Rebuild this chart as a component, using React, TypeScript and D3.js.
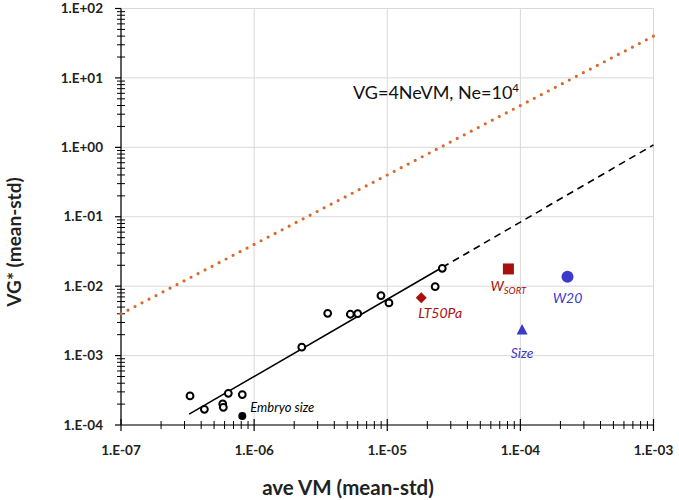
import React from "react";
import * as d3 from "d3";

// ---- data ----
const openVM = [3.3e-7, 4.23e-7, 5.81e-7, 5.87e-7, 6.4e-7, 8.15e-7, 2.28e-6, 3.57e-6, 5.28e-6, 6.0e-6, 8.97e-6, 1.03e-5, 2.29e-5, 2.59e-5];
const openVG = [2.62e-4, 1.68e-4, 2.01e-4, 1.8e-4, 2.86e-4, 2.74e-4, 1.32e-3, 4.06e-3, 3.94e-3, 4.02e-3, 7.3e-3, 5.73e-3, 9.84e-3, 1.81e-2];

const namedLabels = ["Embryo size", "LT50Pa", "W", "W20", "Size"];
const namedSub = ["", "", "SORT", "", ""];
const namedVM = [8.15e-7, 1.8e-5, 8.13e-5, 2.26e-4, 1.03e-4];
const namedVG = [1.35e-4, 6.82e-3, 1.77e-2, 1.37e-2, 2.34e-3];
const namedShape = ["circle", "diamond", "square", "circle", "triangle"];
const namedColor = ["#000000", "#A80F0F", "#A80F0F", "#3A3ACB", "#3A3ACB"];

// power-law fit VG = 10^fitLogA * VM^fitB
const fitLogA = 3.371;
const fitB = 1.112;
const fitStart = 3.25e-7;
const fitSolidEnd = 2.6e-5;
const fitEnd = 1e-3;

// neutral expectation VG = 4 Ne VM
const Ne = 1e4;

const xTicks = [1e-7, 1e-6, 1e-5, 1e-4, 1e-3];
const yTicks = [1e-4, 1e-3, 1e-2, 1e-1, 1e0, 1e1, 1e2];
const fmtExp = (v: number) => {
  const e = Math.round(Math.log10(v));
  return "1.E" + (e < 0 ? "-" : "+") + String(Math.abs(e)).padStart(2, "0");
};

export default function App() {
  const W = 679, H = 500;
  const x = d3.scaleLog().domain([1e-7, 1e-3]).range([121, 653.5]);
  const y = d3.scaleLog().domain([1e-4, 1e2]).range([425, 8.5]);
  const font = "Lato, 'Open Sans', sans-serif";

  const fit = (v: number) => Math.pow(10, fitLogA) * Math.pow(v, fitB);
  const fitLine = d3.line<number>().x((d) => x(d)).y((d) => y(fit(d)));
  const solidPts = [fitStart, fitSolidEnd];
  const dashPts = [fitSolidEnd, fitEnd];

  const xMinor: number[] = [];
  for (let e = -7; e < -3; e++) for (let k = 2; k <= 9; k++) xMinor.push(k * Math.pow(10, e));
  const yMinor: number[] = [];
  for (let e = -4; e < 2; e++) for (let k = 2; k <= 9; k++) yMinor.push(k * Math.pow(10, e));

  const orangeX1 = 1e-7, orangeX2 = 1e-3;

  const shape = (s: string, cx: number, cy: number, c: string, i: number) => {
    if (s === "circle") {
      const r = i === 0 ? 4 : 6;
      return <circle key={i} cx={cx} cy={cy} r={r} fill={c} />;
    }
    if (s === "square") return <rect key={i} x={cx - 5.5} y={cy - 5.5} width={11} height={11} fill={c} />;
    if (s === "diamond")
      return <path key={i} d={`M${cx},${cy - 5.5}L${cx + 5.5},${cy}L${cx},${cy + 5.5}L${cx - 5.5},${cy}Z`} fill={c} />;
    return <path key={i} d={`M${cx},${cy - 6}L${cx + 5.5},${cy + 4.5}L${cx - 5.5},${cy + 4.5}Z`} fill={c} />;
  };

  const labelPos = [
    { dx: 8, dy: -4, anchor: "start" },
    { dx: -3, dy: 20, anchor: "start" },
    { dx: -18, dy: 22, anchor: "start" },
    { dx: 0, dy: 26, anchor: "middle" },
    { dx: 0, dy: 28, anchor: "middle" },
  ];

  return (
    <svg width={W} height={H} style={{ position: "absolute", left: 0, top: 0, background: "#fff" }} fontFamily={font}>
      {/* grid */}
      {xTicks.map((t) => (
        <line key={"gx" + t} x1={x(t)} x2={x(t)} y1={y(1e2)} y2={y(1e-4)} stroke="#D9D9D9" strokeWidth={1} />
      ))}
      {yTicks.map((t) => (
        <line key={"gy" + t} x1={x(1e-7)} x2={x(1e-3)} y1={y(t)} y2={y(t)} stroke="#D9D9D9" strokeWidth={1} />
      ))}

      {/* axes */}
      <line x1={121} x2={121} y1={y(1e2)} y2={y(1e-4)} stroke="#000" strokeWidth={1.2} />
      <line x1={x(1e-7)} x2={x(1e-3)} y1={425} y2={425} stroke="#000" strokeWidth={1.2} />
      {yMinor.map((t) => (
        <line key={"ym" + t} x1={117} x2={125} y1={y(t)} y2={y(t)} stroke="#000" strokeWidth={1} />
      ))}
      {yTicks.map((t) => (
        <line key={"yt" + t} x1={115} x2={121} y1={y(t)} y2={y(t)} stroke="#000" strokeWidth={1.2} />
      ))}
      {xMinor.map((t) => (
        <line key={"xm" + t} x1={x(t)} x2={x(t)} y1={421} y2={429} stroke="#000" strokeWidth={1} />
      ))}
      {xTicks.map((t) => (
        <line key={"xt" + t} x1={x(t)} x2={x(t)} y1={419} y2={431} stroke="#000" strokeWidth={1.2} />
      ))}

      {/* tick labels */}
      {yTicks.map((t) => (
        <text key={"yl" + t} x={103} y={y(t)} dy="0.35em" textAnchor="end" fontSize={13.5} fontWeight="bold" fill="#222">
          {fmtExp(t)}
        </text>
      ))}
      {xTicks.map((t) => (
        <text key={"xl" + t} x={x(t)} y={450} dy="0.35em" textAnchor="middle" fontSize={13.5} fontWeight="bold" fill="#222">
          {fmtExp(t)}
        </text>
      ))}

      {/* axis titles */}
      <text x={348} y={488} dy="0.35em" textAnchor="middle" fontSize={20.5} fontWeight="bold" fill="#222">
        ave VM (mean-std)
      </text>
      <text transform={`translate(14,242) rotate(-90)`} textAnchor="middle" dy="0.35em" fontSize={19} fontWeight="bold" fill="#222">
        VG* (mean-std)
      </text>

      {/* neutral line */}
      <line
        x1={x(orangeX1)}
        y1={y(4 * Ne * orangeX1)}
        x2={x(orangeX2)}
        y2={y(4 * Ne * orangeX2)}
        stroke="#D9692A"
        strokeWidth={3.2}
        strokeLinecap="round"
        strokeDasharray="0 7.9"
      />
      <text x={353} y={93} dy="0.35em" fontSize={18} fill="#111">
        VG=4NeVM, Ne=10
        <tspan fontSize={11.5} dy="-7">4</tspan>
      </text>

      {/* fit line */}
      <path d={fitLine(solidPts)!} fill="none" stroke="#000" strokeWidth={1.6} />
      <path d={fitLine(dashPts)!} fill="none" stroke="#000" strokeWidth={1.6} strokeDasharray="7 5" />

      {/* open points */}
      {openVM.map((v, i) => (
        <circle key={"o" + i} cx={x(v)} cy={y(openVG[i])} r={3.4} fill="#fff" stroke="#000" strokeWidth={2} />
      ))}

      {/* named points */}
      {namedVM.map((v, i) => shape(namedShape[i], x(v), y(namedVG[i]), namedColor[i], i))}
      {namedVM.map((v, i) => (
        <text
          key={"nl" + i}
          x={x(v) + labelPos[i].dx}
          y={y(namedVG[i]) + labelPos[i].dy}
          textAnchor={labelPos[i].anchor as any}
          fontSize={i === 0 ? 13 : 14}
          fontStyle="italic"
          fill={namedColor[i]}
        >
          {namedLabels[i]}
          {namedSub[i] ? <tspan fontSize={9.5} dy="3">{namedSub[i]}</tspan> : null}
        </text>
      ))}
    </svg>
  );
}
